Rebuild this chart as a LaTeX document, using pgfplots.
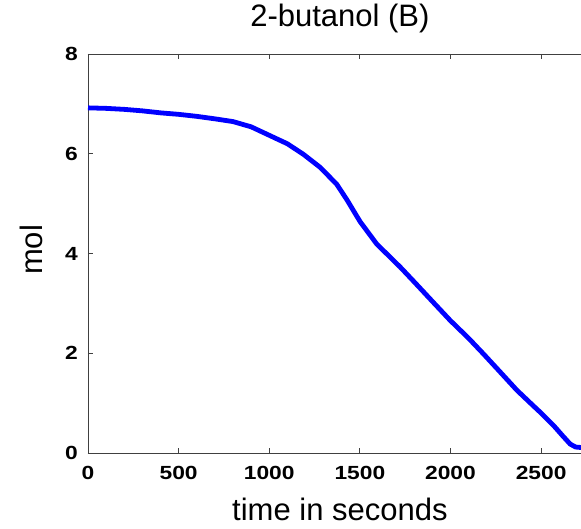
\documentclass[border=0pt]{standalone}
\usepackage{fontspec}
\setmainfont{Liberation Sans}
\usepackage{pgfplots}
\pgfplotsset{compat=1.18}
\definecolor{axgray}{RGB}{64,64,64}
\begin{document}
\begin{tikzpicture}
\begin{axis}[
  scale only axis,
  width=493pt, height=399pt,
  at={(0,0)}, anchor=south west,
  xmin=0, xmax=2720, ymin=0, ymax=8,
  axis x line*=box, axis y line*=left,
  xtick={0,500,1000,1500,2000,2500},
  ytick={0,2,4,6,8},
  xtick pos=both,
  tick align=inside,
  major tick length=5pt,
  axis line style={axgray, line width=0.9pt},
  tick style={axgray, line width=0.9pt},
  /pgf/number format/1000 sep={},
  /pgf/number format/assume math mode=true,
  xticklabel={\scalebox{1.2}[1]{\pgfmathprintnumber{\tick}}},
  yticklabel={\scalebox{1.2}[1]{\pgfmathprintnumber{\tick}}},
  ticklabel style={font=\fontsize{19}{19}\selectfont\bfseries, inner sep=0pt},
  xticklabel style={anchor=north, yshift=-13pt},
  yticklabel style={anchor=east, xshift=-10pt},
  title={2-butanol (B)},
  title style={font=\fontsize{31}{31}\selectfont, at={(axis description cs:0.511,1)}, anchor=base, yshift=21pt, inner sep=0pt},
  xlabel={time in seconds},
  xlabel style={font=\fontsize{31}{31}\selectfont, at={(axis description cs:0.511,0)}, anchor=base, yshift=-67pt, inner sep=0pt},
  ylabel={mol},
  ylabel style={font=\fontsize{31}{31}\selectfont, at={(axis description cs:-0.0913,0.509)}, rotate=0, anchor=base, inner sep=0pt},
  clip=false,
]
\addplot[blue, line width=4.8pt, line join=round] coordinates {
(0,6.92) (100,6.91) (200,6.89) (300,6.86) (400,6.82) (500,6.79)
(600,6.75) (700,6.70) (800,6.645) (900,6.54) (1000,6.37) (1100,6.20)
(1188,5.99) (1280,5.73) (1372,5.39) (1428,5.08) (1501,4.64) (1593,4.19)
(1722,3.73) (1800,3.43) (1900,3.04) (1998,2.66) (2100,2.30) (2181,1.99)
(2270,1.64) (2366,1.26) (2450,0.97) (2500,0.80) (2569,0.55) (2620,0.34)
(2660,0.18) (2690,0.12) (2720,0.11)
};
\end{axis}
\pgfresetboundingbox
\path[use as bounding box] (-88pt,-75pt) rectangle (493pt,453pt);
\end{tikzpicture}
\end{document}
